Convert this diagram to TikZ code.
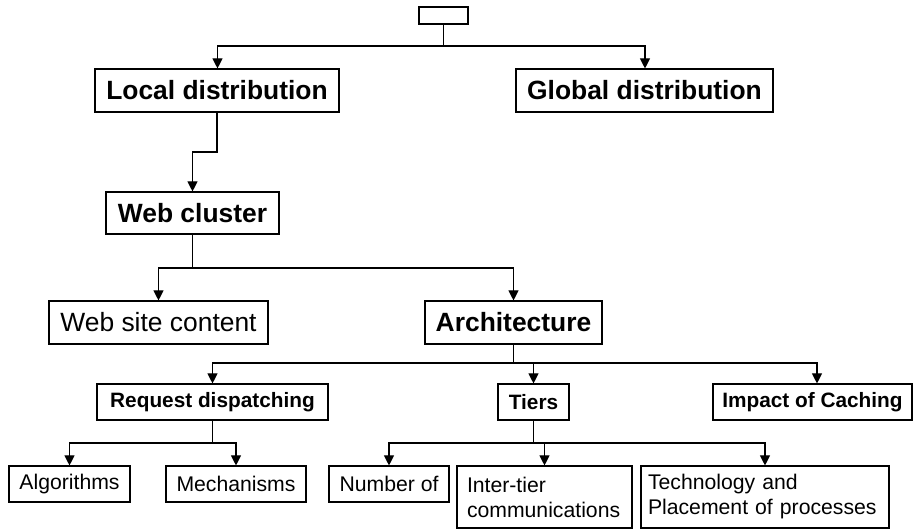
\documentclass[tikz,border=0pt]{standalone}
\usepackage{fontspec}
\setmainfont{Liberation Sans}
\usetikzlibrary{arrows.meta}
\tikzset{
  box/.style={draw, line width=1.1pt, inner sep=0pt, minimum width=#1, align=center},
  bigb/.style={font=\fontsize{26.4}{30}\selectfont\bfseries, minimum height=43pt},
  bigr/.style={font=\fontsize{26.4}{30}\selectfont, minimum height=43pt},
  smallb/.style={font=\fontsize{20.8}{24}\selectfont\bfseries, minimum height=36pt},
  smallr/.style={font=\fontsize{21.2}{25}\selectfont, minimum height=36pt},
  tworow/.style={font=\fontsize{21.2}{25}\selectfont, minimum height=62pt, align=left},
  conn/.style={line width=1.1pt},
  arr/.style={line width=1.1pt, -{Triangle[width=10pt,length=10pt]}}
}
\begin{document}
\begin{tikzpicture}[x=1pt,y=-1pt]
\useasboundingbox (0,0) rectangle (914,529);
% nodes
\node[box=49pt, minimum height=17pt] (top) at (443.5,15.5) {};
\node[box=244pt, bigb] (local) at (217,90.5) {Local distribution};
\node[box=257pt, bigb] (global) at (644.5,90.5) {Global distribution};
\node[box=173pt, bigb, minimum height=42pt] (web) at (192.5,213) {Web cluster};
\node[box=219pt, bigr] (content) at (158.5,322.5) {Web site content};
\node[box=177pt, bigb] (arch) at (513.5,322.5) {Architecture};
\node[box=231pt, smallb] (req) at (212.5,402) {Request dispatching};
\node[box=71pt, smallb] (tiers) at (533.5,402) {Tiers};
\node[box=199pt, smallb] (impact) at (812.5,402) {Impact of Caching};
\node[box=121pt, smallr] (alg) at (69.5,484) {Algorithms};
\node[box=140pt, smallr] (mech) at (236,484) {Mechanisms};
\node[box=120pt, smallr] (numof) at (389,484) {Number of};
\node[box=175pt, tworow, inner xsep=10pt, text width=155pt] (inter) at (544.5,497) {Inter-tier\\communications};
\node[box=248pt, tworow, inner xsep=7pt, text width=234pt] (tech) at (765,497) {Technology and\\Placement of processes};
% level coordinates
\coordinate (y1) at (0,46);
\coordinate (y2) at (0,152);
\coordinate (y3) at (0,268);
\coordinate (y4) at (0,363);
\coordinate (y5) at (0,443);
% connectors
\draw[conn] (top.south) -- (top.south |- y1);
\draw[arr] (top.south |- y1) -| ([xshift=0.5pt]local.north);
\draw[arr] (top.south |- y1) -| ([xshift=0.5pt]global.north);
\draw[arr] (local.south) -- (local.south |- y2) -| (web.north);
\draw[conn] (web.south) -- (web.south |- y3);
\draw[arr] (web.south |- y3) -| (content.north);
\draw[arr] (web.south |- y3) -| (arch.north);
\draw[conn] (arch.south) -- (arch.south |- y4);
\draw[arr] (arch.south |- y4) -| (req.north);
\draw[arr] (arch.south |- y4) -| (tiers.north);
\draw[arr] (arch.south |- y4) -| ([xshift=4.5pt]impact.north);
\draw[conn] (req.south) -- (req.south |- y5);
\draw[arr] (req.south |- y5) -| (alg.north);
\draw[arr] (req.south |- y5) -| (mech.north);
\draw[conn] (tiers.south) -- (tiers.south |- y5);
\draw[arr] (tiers.south |- y5) -| (numof.north);
\draw[arr] (tiers.south |- y5) -| (inter.north);
\draw[arr] (tiers.south |- y5) -| (tech.north);
\end{tikzpicture}
\end{document}
